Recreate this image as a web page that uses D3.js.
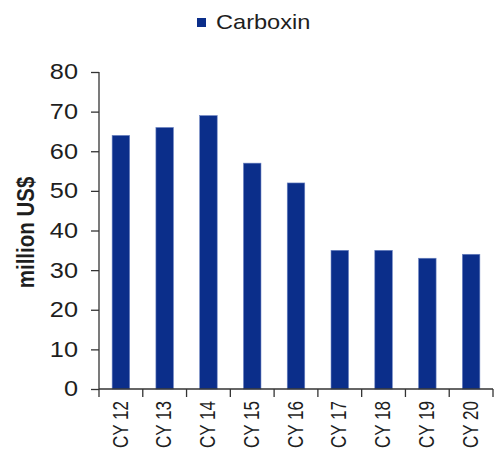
<!DOCTYPE html>
<html>
<head>
<meta charset="utf-8">
<script src="https://cdn.jsdelivr.net/npm/d3@7/dist/d3.min.js"></script>
<style>
  html, body { margin: 0; padding: 0; background: #fff; }
  svg { display: block; }
  text { font-family: "Liberation Sans", Arial, sans-serif; fill: #1e1e1e; }
</style>
</head>
<body>
<svg id="chart" width="494" height="450"></svg>
<script>
// Carboxin market value by calendar year
const categories = ["CY 12", "CY 13", "CY 14", "CY 15", "CY 16", "CY 17", "CY 18", "CY 19", "CY 20"];
const values = [64, 66, 69, 57, 52, 35, 35, 33, 34];
const yTicks = [0, 10, 20, 30, 40, 50, 60, 70, 80];
const seriesName = "Carboxin";
const axisTitle = "million US$";

const W = 494, H = 450;
const margin = { left: 99, right: 1, top: 72, bottom: 61 };
const barColor = "#0b2e8a";
const axisColor = "#333";
const sx = 1.15; // horizontal widening of the lettering

const svg = d3.select("#chart");

const x = d3.scaleBand()
  .domain(categories)
  .range([margin.left, W - margin.right])
  .paddingInner(0.6)
  .paddingOuter(0.3);

const y = d3.scaleLinear()
  .domain([0, 80])
  .range([H - margin.bottom, margin.top]);

// bars
svg.append("g")
  .selectAll("rect")
  .data(values)
  .join("rect")
  .attr("x", (d, i) => x(categories[i]))
  .attr("y", d => y(d))
  .attr("width", x.bandwidth())
  .attr("height", d => y(0) - y(d))
  .attr("fill", barColor)
  .attr("stroke", "#6d84c2")
  .attr("stroke-width", 0.6);

// y axis
const yAxis = svg.append("g")
  .attr("transform", `translate(${margin.left},0)`)
  .call(d3.axisLeft(y).tickValues(yTicks).tickSize(8).tickSizeOuter(0).tickFormat(d3.format("d")));
yAxis.select(".domain").attr("stroke", axisColor).attr("stroke-width", 1.3)
  .attr("d", `M0,${y(80)}V${y(0) + 8}`);
yAxis.selectAll(".tick line").attr("stroke", axisColor).attr("stroke-width", 1.3);
yAxis.selectAll(".tick text")
  .attr("x", 0)
  .attr("dy", "0.36em")
  .attr("transform", `translate(-21,-1) scale(${sx},1)`)
  .style("font-size", "22px")
  .style("fill", "#1e1e1e");

// x axis: labels at band centres, ticks at band boundaries
const step = x.step();
const gap = step - x.bandwidth();
const boundaries = categories.map(c => x(c) - gap / 2).concat([x(categories[categories.length - 1]) + x.bandwidth() + gap / 2]);

const xAxis = svg.append("g").attr("transform", `translate(0,${y(0)})`);
xAxis.append("line")
  .attr("x1", margin.left).attr("x2", boundaries[boundaries.length - 1])
  .attr("stroke", axisColor).attr("stroke-width", 1.3);
xAxis.selectAll(".bt")
  .data(boundaries.slice(1))
  .join("line")
  .attr("class", "bt")
  .attr("x1", d => d).attr("x2", d => d)
  .attr("y1", 0).attr("y2", 8)
  .attr("stroke", axisColor).attr("stroke-width", 1.3);
xAxis.selectAll(".xl")
  .data(categories)
  .join("text")
  .attr("class", "xl")
  .attr("transform", d => `translate(${x(d) + x.bandwidth() / 2 - 1},12) scale(1.25,1) rotate(-90)`)
  .attr("text-anchor", "end")
  .attr("dy", "0.36em")
  .style("font-size", "17px")
  .text(d => d);

// y axis title
svg.append("text")
  .attr("transform", `translate(26,${(y(0) + y(80)) / 2 + 2}) scale(${sx},1) rotate(-90)`)
  .attr("text-anchor", "middle")
  .attr("dy", "0.35em")
  .style("font-size", "20.5px")
  .style("font-weight", "bold")
  .text(axisTitle);

// legend
const legend = svg.append("g").attr("transform", "translate(197,18)");
legend.append("rect")
  .attr("width", 9).attr("height", 9)
  .attr("fill", barColor);
legend.append("text")
  .attr("transform", `translate(19,10.5) scale(1.18,1)`)
  .style("font-size", "20px")
  .text(seriesName);
</script>
</body>
</html>
